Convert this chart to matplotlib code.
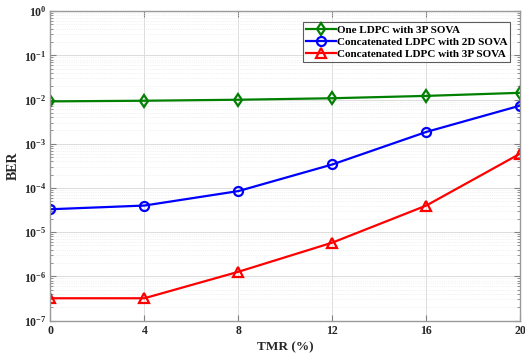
import matplotlib
matplotlib.use("Agg")
import matplotlib.pyplot as plt
from matplotlib.ticker import FixedLocator, NullFormatter, LogFormatterSciNotation

tmr = [0, 4, 8, 12, 16, 20]
one_ldpc_3p = [9.1e-3, 9.4e-3, 9.9e-3, 1.07e-2, 1.21e-2, 1.42e-2]
concat_2d = [3.3e-5, 4.0e-5, 8.5e-5, 3.4e-4, 1.85e-3, 7.3e-3]
concat_3p = [3.2e-7, 3.2e-7, 1.27e-6, 5.8e-6, 4.0e-5, 6.0e-4]
labels = ["One LDPC with 3P SOVA", "Concatenated LDPC with 2D SOVA",
          "Concatenated LDPC with 3P SOVA"]
xticks = [0, 4, 8, 12, 16, 20]
ydecades = list(range(-7, 1))

plt.rcParams['font.family'] = ['Liberation Serif', 'DejaVu Serif']
plt.rcParams['font.weight'] = 'bold'
plt.rcParams['mathtext.fontset'] = 'custom'
plt.rcParams['mathtext.rm'] = 'Liberation Serif:bold'
plt.rcParams['mathtext.default'] = 'rm'

fig = plt.figure(figsize=(5.25, 3.59), dpi=100)
ax = fig.add_axes([0.096, 0.107, 0.895, 0.862])

kw = dict(lw=1.6, markersize=6.5, mew=1.6, mfc='none')
ax.semilogy(tmr, one_ldpc_3p, color='#008000', marker='d', label=labels[0], **kw)
ax.semilogy(tmr, concat_2d, color='#0000ff', marker='o', label=labels[1], **kw)
ax.semilogy(tmr, concat_3p, color='#ff0000', marker='^', label=labels[2], **kw)

ax.set_xlim(0, 20)
ax.set_ylim(1e-7, 1)
ax.xaxis.set_major_locator(FixedLocator(xticks))
ax.yaxis.set_major_locator(FixedLocator([10.0 ** d for d in ydecades]))
ax.yaxis.set_major_formatter(LogFormatterSciNotation())
minors = [m * 10.0 ** d for d in ydecades[:-1] for m in range(2, 10)]
ax.yaxis.set_minor_locator(FixedLocator(minors))
ax.yaxis.set_minor_formatter(NullFormatter())

ax.grid(True, which='major', color='#dcdcdc', lw=0.7, ls='-')
ax.grid(True, which='minor', axis='y', color='#e6e6e6', lw=0.5, ls=':')
ax.set_axisbelow(True)

for s in ax.spines.values():
    s.set_color('#9a9a9a')
    s.set_linewidth(1.0)
ax.tick_params(which='both', direction='in', top=True, right=True, color='#808080')
ax.tick_params(which='major', length=4, labelsize=8.5, labelcolor='#262626', pad=3)
ax.tick_params(which='minor', length=2)
for lab in ax.get_xticklabels() + ax.get_yticklabels():
    lab.set_fontweight('bold')

ax.set_xlabel('TMR (%)', fontsize=9.5, fontweight='bold', color='#262626')
ax.set_ylabel('BER', fontsize=10, fontweight='bold', color='#262626')
ax.xaxis.set_label_coords(0.5, -0.068)
ax.yaxis.set_label_coords(-0.065, 0.5)

leg = ax.legend(loc='upper right', bbox_to_anchor=(0.985, 0.975),
                prop={'weight': 'bold', 'size': 8}, frameon=True, fancybox=False,
                edgecolor='#333333', handlelength=2.7, handletextpad=0.1,
                borderpad=0.25, labelspacing=0.2, borderaxespad=0.3)
leg.get_frame().set_linewidth(0.8)

fig.savefig('out.png', dpi=100, facecolor='white')
